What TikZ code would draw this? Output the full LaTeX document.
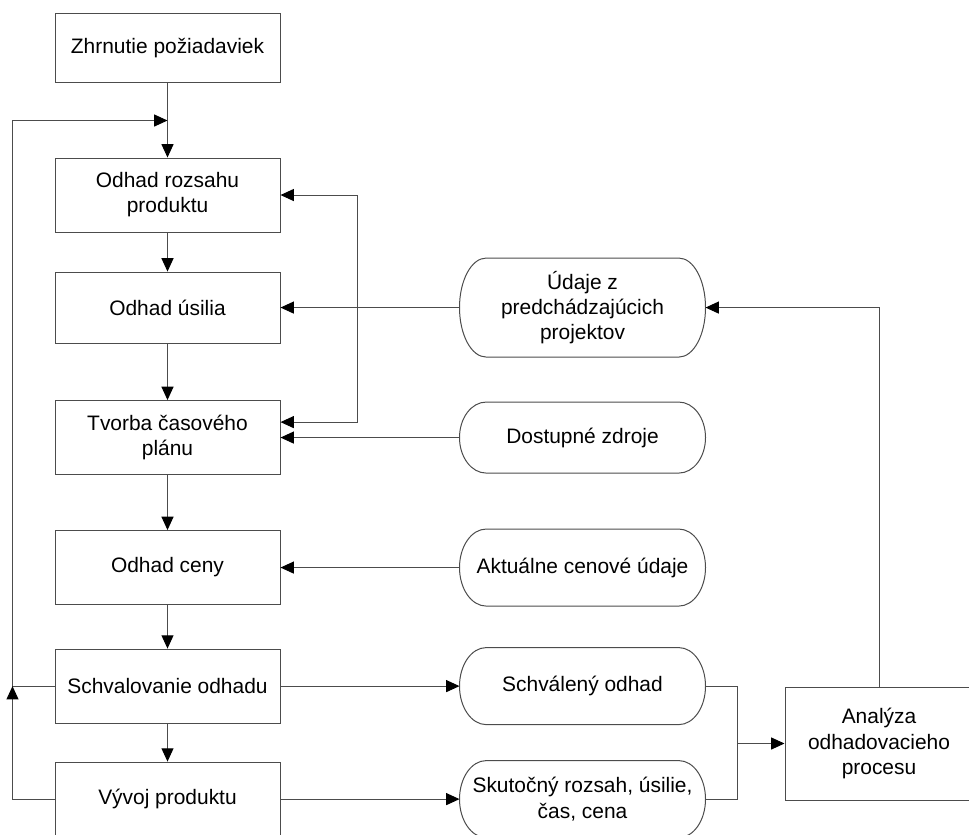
\documentclass[tikz,border=0pt]{standalone}
\usepackage{fontspec}
\setmainfont{Liberation Sans}
\usetikzlibrary{arrows.meta,calc}
\definecolor{linegray}{gray}{0.3}

\begin{document}
\begin{tikzpicture}[x=0.75pt,y=-0.75pt,line width=0.75pt]
            \tikzstyle{main node}=[draw=linegray,rectangle,align=center,inner sep=0pt,minimum width=168.75pt,minimum height=55.5pt,font=\fontsize{15.7}{18.8}\selectfont]
            \tikzstyle{data node}=[rectangle,align=center,inner sep=0pt,minimum width=183.75pt,minimum height=57pt,font=\fontsize{15.7}{18.8}\selectfont,
                append after command={(\tikzlastnode.north west) edge[draw=linegray,to path={let \p1=(\tikztostart),\p2=(\tikztotarget) in
                    (\x1+20pt,\y1) -- (\x2-20pt,\y1) arc[start angle=90,end angle=-90,x radius=20pt,y radius={(\y1-\y2)/2}]
                    -- (\x1+20pt,\y2) arc[start angle=270,end angle=90,x radius=20pt,y radius={(\y1-\y2)/2}]}] (\tikzlastnode.south east)}]
            \tikzstyle{flow}=[draw=linegray,-{Triangle[length=10pt,width=9pt,color=black]}]

            \useasboundingbox (0,0) rectangle (969,834);
            \clip (0,0) rectangle (969,834);

            \node[main node,minimum height=51.75pt] (zhr) at (167.5,48.5) {Zhrnutie požiadaviek};
            \node[main node] (rozsah) [below of=zhr,node distance=109.9pt] {Odhad rozsahu\\produktu};
            \node[main node,minimum height=53.25pt] (usilie) [below of=rozsah,node distance=84.4pt] {Odhad úsilia};
            \node[main node] (tvorba) [below of=usilie,node distance=97.5pt] {Tvorba časového\\plánu};
            \node[main node] (cena) [below of=tvorba,node distance=97.5pt] {Odhad ceny};
            \node[main node] (schval) [below of=cena,node distance=88.9pt] {Schvalovanie odhadu};
            \node[main node] (vyvoj) [below of=schval,node distance=84.75pt] {Vývoj produktu};

            \node[data node,minimum height=73.5pt] (udaje) [right of=usilie,node distance=311.25pt] {Údaje z\\predchádzajúcich\\projektov};
            \node[data node,minimum height=52.5pt] (zdroje) [right of=tvorba,node distance=311.25pt] {Dostupné zdroje};
            \node[data node] (ceny) [right of=cena,node distance=311.25pt] {Aktuálne cenové údaje};
            \node[data node] (schvaleny) [right of=schval,node distance=311.25pt] {Schválený odhad};
            \node[data node] (skutocny) [right of=vyvoj,node distance=311.25pt] {Skutočný rozsah, úsilie,\\čas, cena};
            \node[main node,minimum width=141pt,minimum height=84.75pt] (analyza) at (879,743.5) {Analýza\\odhadovacieho\\procesu};

            \coordinate (ret) at ($(zhr.south)!0.5!(rozsah.north)$);
            \coordinate (back) at ($(schval.west)+(-31.5pt,0)$);
            \coordinate (split) at (357,307);
            \coordinate (merge) at ($(analyza.west)+(-35.25pt,0)$);

            \draw[flow] (zhr) -- (rozsah);
            \draw[flow] (rozsah) -- (usilie);
            \draw[flow] (usilie) -- (tvorba);
            \draw[flow] (tvorba) -- (cena);
            \draw[flow] (cena) -- (schval);
            \draw[flow] (schval) -- (vyvoj);

            \draw[flow] (udaje.west) -- (udaje.west -| usilie.east);
            \draw[flow] (split) |- (rozsah.east);
            \draw[flow] (split) |- ([yshift=11.6pt]tvorba.east);
            \draw[flow] (zdroje.west) -- (zdroje.west -| tvorba.east);
            \draw[flow] (ceny.west) -- (ceny.west -| cena.east);

            \draw[flow] (schval) -- (schvaleny);
            \draw[flow] (vyvoj) -- (skutocny);
            \draw[flow] (schval.west) -- (back) |- (ret);
            \draw[flow] (vyvoj.west) -| (back);

            \draw[linegray] (schvaleny.east) -| (merge) |- (skutocny.east);
            \draw[flow] (merge) -- (analyza);
            \draw[flow] (analyza.north) |- (udaje.east);
        \end{tikzpicture}
\end{document}
